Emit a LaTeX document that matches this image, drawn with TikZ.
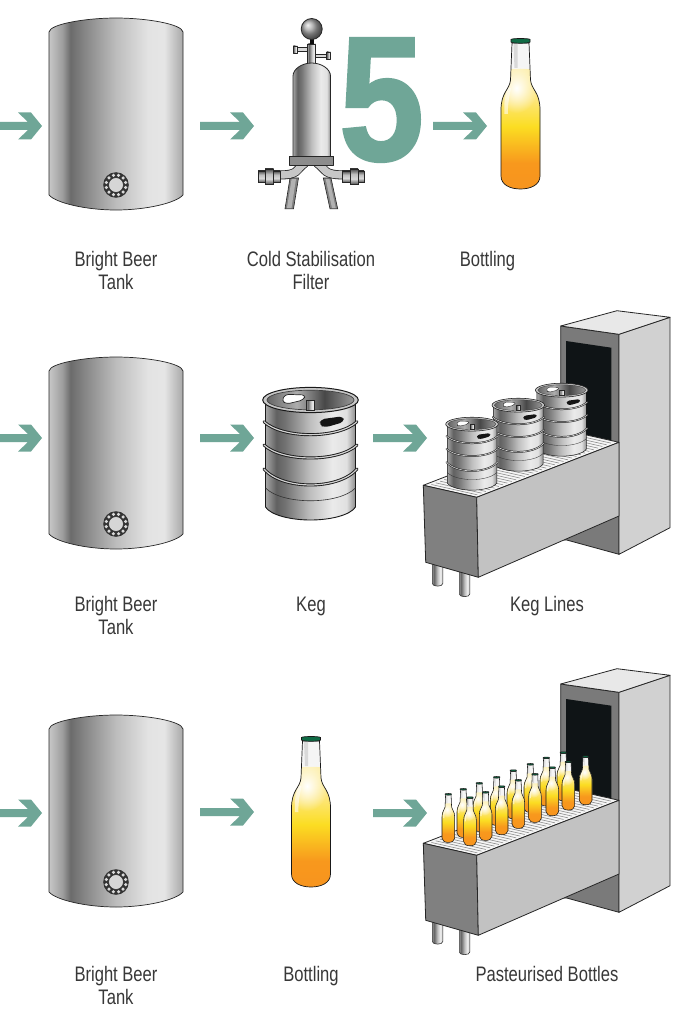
\documentclass[tikz,border=0pt]{standalone}
\usepackage{fontspec}
\setmainfont[FakeStretch=0.79]{Liberation Sans}
\newfontfamily\fivefont[FakeStretch=0.86,BoldFeatures={FakeBold=1.6}]{Liberation Sans}
\usetikzlibrary{calc,fadings}
\definecolor{teal5}{HTML}{6FA697}
\definecolor{capgreen}{HTML}{0F6B45}
\definecolor{beerA}{HTML}{F7941E}
\definecolor{beerB}{HTML}{F8981D}
\definecolor{beerC}{HTML}{FBDD22}
\definecolor{beerD}{HTML}{FDE67A}
\definecolor{beerE}{HTML}{FDEFAE}
\definecolor{windowblack}{HTML}{0F1416}
\pgfdeclarehorizontalshading{steel}{100bp}{
 color(0bp)=(black!22); color(25bp)=(black!22); color(30bp)=(black!38); color(33bp)=(black!58);
 color(38bp)=(black!48); color(50bp)=(black!26); color(62bp)=(black!11); color(68bp)=(black!10);
 color(72bp)=(black!24); color(75bp)=(black!34); color(100bp)=(black!34)}
\pgfdeclarehorizontalshading{steelb}{100bp}{
 color(0bp)=(black!35); color(25bp)=(black!35); color(31bp)=(black!62); color(36bp)=(black!55);
 color(50bp)=(black!25); color(62bp)=(black!8); color(70bp)=(black!12); color(75bp)=(black!45); color(100bp)=(black!45)}
\pgfdeclarehorizontalshading{kegin}{100bp}{
 color(0bp)=(black!60); color(25bp)=(black!60); color(42bp)=(black!32); color(58bp)=(black!72); color(75bp)=(black!40); color(100bp)=(black!40)}
\pgfdeclareverticalshading{pipev}{100bp}{
 color(0bp)=(black!65); color(25bp)=(black!65); color(42bp)=(black!15); color(58bp)=(black!25); color(75bp)=(black!70); color(100bp)=(black!70)}
\pgfdeclareverticalshading{beer}{100bp}{
 color(0bp)=(beerA); color(25bp)=(beerA); color(36bp)=(beerB); color(51bp)=(beerC);
 color(62bp)=(beerD); color(75bp)=(beerE); color(100bp)=(beerE)}
\tikzfading[name=glowfade, inner color=transparent!0, outer color=transparent!100]
\tikzset{
 labeltext/.style={align=center,text=black!78,font=\fontsize{21}{23.4}\selectfont,inner sep=0pt},
 oneline/.style={labeltext,anchor=base},
 outline/.style={draw=black!85,line width=.7pt,line join=round},
 boxface/.style={draw=black!85,line width=.8pt,line join=round},
 fitpart/.style={draw=black!85,line width=.6pt},
}
% arrow: start x, tip x, y
\newcommand\flowarrow[3]{%
 \fill[teal5] (#1,#3-4) -- (#2-14,#3-4) -- (#2-24,#3-13.5) -- (#2-11,#3-13.5) -- (#2,#3) -- (#2-11,#3+13.5) -- (#2-24,#3+13.5) -- (#2-14,#3+4) -- (#1,#3+4) -- cycle;}
% tank: top y
\newcommand\tankdraw[1]{%
 \begin{scope}[shift={(116,#1)}]
 \path[outline,shading=steel] (-67,14) .. controls (-66,6) and (-30,0) .. (0,0) .. controls (30,0) and (66,6) .. (67,14)
   -- (67,177) .. controls (60,185) and (30,192) .. (0,192) .. controls (-30,192) and (-60,185) .. (-67,177) -- cycle;
 \fill[black!80] (0,167) circle (12.8);
 \foreach \a in {15,45,...,345}{\fill[black!15] (0,167)++(\a:10) circle (1.75);}
 \draw[black!85,line width=.5pt,fill=black!16] (0,167) circle (7.4);
 \end{scope}}
% bottle: x, top y, scale
\newcommand\beerbottle[4][.7pt]{%
 \begin{scope}[shift={(#2,#3)},scale=#4]
 \def\bpath{(-8.5,5) -- (-10,42) .. controls (-11,52) and (-19.5,54) .. (-19.5,72) -- (-19.5,138) .. controls (-19.5,147) and (-10,151) .. (0,151) .. controls (10,151) and (19.5,147) .. (19.5,138) -- (19.5,72) .. controls (19.5,54) and (11,52) .. (10,42) -- (8.5,5) -- cycle}
 \fill[black!4] \bpath;
 \begin{scope}
 \clip \bpath;
 \shade[shading=beer] (-21,33) .. controls (-5,30) and (5,30) .. (21,33) -- (21,152) -- (-21,152) -- cycle;
 \fill[white,path fading=glowfade] (-4,50) ellipse [x radius=21,y radius=25];
 \fill[white,opacity=.55] (-13,50) .. controls (-15,58) and (-17,64) .. (-16,76) -- (-12.5,76) .. controls (-13,66) and (-11,58) .. (-9.5,50) -- cycle;
 \fill[black!15] (-7,6) -- (-6,30) -- (-3,30) -- (-3,6) -- cycle;
 \end{scope}
 \draw[black!90,line width=#1,line join=round] \bpath;
 \draw[black!90,fill=capgreen,line width=#1] (-9.5,1.5) .. controls (-9,.2) and (9,.2) .. (9.5,1.5) -- (9.5,4) .. controls (9,5.6) and (-9,5.6) .. (-9.5,4) -- cycle;
 \end{scope}}
% keg: cx, top y, scale
\newcommand\kegring[3]{%
 \draw[black!90,line width=#3*3pt,line cap=round] (-46.5,#1) .. controls (-28,#1+#2*1.33) and (28,#1+#2*1.33) .. (46.5,#1);
 \draw[black!18,line width=#3*1.2pt,line cap=round] (-46.5,#1) .. controls (-28,#1+#2*1.33) and (28,#1+#2*1.33) .. (46.5,#1);}
\newcommand\kegdraw[3]{%
 \begin{scope}[shift={(#1,#2)},scale=#3]
 \path[draw=black!90,line width=#3*.9pt,shading=steelb] (-45,13) -- (-45,120) .. controls (-40,128) and (-20,133) .. (0,133) .. controls (20,133) and (40,128) .. (45,120) -- (45,13) -- cycle;
 \draw[black!80,line width=#3*.6pt] (-45,101) .. controls (-28,118) and (28,118) .. (45,101);
 \kegring{34.7}{13}{#3}\kegring{58}{13}{#3}\kegring{82}{16}{#3}
 \path[draw=black!90,line width=#3*1pt,fill=black!22] (0,13) ellipse [x radius=47.8,y radius=12.6];
 \path[draw=black!75,line width=#3*.7pt,shading=kegin] (0,13) ellipse [x radius=43.5,y radius=9.8];
 \draw[black!85,line width=#3*.7pt,fill=white,rounded corners=#3*3.5pt,line join=round] (-28.8,14) -- (-25.5,7.3) -- (-4.8,8) -- (-7.2,13) -- (-23.8,17) -- cycle;
 \path[draw=black!85,line width=#3*.6pt,shading=steelb] (-4,13) rectangle (4,23);
 \fill[black!92,rounded corners=#3*4pt] (8.5,38) -- (10.2,32.3) -- (32.8,29.2) -- (33.5,35) -- (14.5,40.5) -- cycle;
 \end{scope}}
% line machine: y offset
\newcommand\linemachine[1]{%
 \begin{scope}[shift={(0,#1)}]
 \foreach \lx/\ly in {432.3/586,459.3/596.5}{
  \path[draw=black!80,line width=.6pt,shading=steelb] (\lx,560) -- (\lx,\ly-2.5) .. controls (\lx,\ly+1) and (\lx+10.5,\ly+1) .. (\lx+10.5,\ly-2.5) -- (\lx+10.5,560) -- cycle;}
 \draw[boxface,fill=black!52] (560.7,326) -- (619,334.3) -- (619,554.3) -- (566.7,540) -- (560.7,540) -- cycle;
 \fill[windowblack] (566,341) -- (611.3,347.7) -- (611.3,445) -- (566,460) -- cycle;
 \draw[boxface,fill=black!18] (619,334.3) -- (670,317.3) -- (670,527.7) -- (619,554.3) -- cycle;
 \draw[boxface,fill=black!9] (560.7,326) -- (617,310.7) -- (670,317.3) -- (619,334.3) -- cycle;
 \coordinate (A) at (423.3,485.3); \coordinate (B) at (476.7,497.3);
 \coordinate (C) at (619,442.3); \coordinate (D) at (565.6,430.3);
 \draw[boxface,fill=black!4] (A) -- (B) -- (C) -- (D) -- cycle;
 \foreach \f in {1,...,32}{
  \coordinate (P) at ($(A)!\f/33!(D)$); \coordinate (Q) at ($(B)!\f/33!(C)$);
  \draw[black!45,line width=.6pt] ($(P)!.07!(Q)$) -- ($(P)!.93!(Q)$);}
 \draw[boxface,fill=black!50] (A) -- (B) -- (478.3,577.3) -- (425.7,562.3) -- cycle;
 \draw[boxface,fill=black!24] (B) -- (C) -- (619,516) -- (478.3,577.3) -- cycle;
 \end{scope}}
\begin{document}
\begin{tikzpicture}[x=1pt,y=-1pt]
\useasboundingbox (0,0) rectangle (675,1011);
\fill[white] (0,0) rectangle (675,1011);
% ---------- tanks
\tankdraw{18}\tankdraw{357}\tankdraw{715}
% ---------- arrows
\flowarrow{0}{42}{126}\flowarrow{200}{254}{126}\flowarrow{433}{487}{126}
\flowarrow{0}{42}{438}\flowarrow{200}{254}{438}\flowarrow{373}{427}{438}
\flowarrow{0}{42}{813}\flowarrow{200}{254}{812}\flowarrow{373}{427}{813}
% ---------- big 5
\node[text=teal5,inner sep=0pt,font=\fontsize{177}{177}\fivefont\bfseries] (five) at (381.5,100) {5};
% ---------- filter
\draw[fitpart,fill=black!50] (285,208.8) -- (290,178) -- (298.5,178) -- (293.5,208.8) -- cycle;
\draw[fitpart,fill=black!50] (330,208.8) -- (323.3,178) -- (331,178) -- (337.7,208.8) -- cycle;
\fill[black!30] (287,208) -- (291.6,179) -- (296,179) -- (291.5,208) -- cycle;
\fill[black!30] (332,208) -- (325.6,179) -- (329.4,179) -- (335.7,208) -- cycle;
\draw[black!85,line width=9pt] (278,175) .. controls (300,175) and (295,170) .. (305,163);
\draw[black!22,line width=7.4pt] (278,175) .. controls (300,175) and (295,170) .. (305,163);
\draw[black!85,line width=9pt] (346,175) .. controls (322,175) and (327,170) .. (317,163);
\draw[black!22,line width=7.4pt] (346,175) .. controls (322,175) and (327,170) .. (317,163);
\path[fitpart,shading=pipev] (258,171) rectangle (265,182);
\path[fitpart,shading=pipev] (265,169) rectangle (273.5,184);
\path[fitpart,shading=pipev] (273.5,171) rectangle (280,182);
\path[fitpart,shading=pipev] (342,171) rectangle (350,182);
\path[fitpart,shading=pipev] (350,169) rectangle (358,184);
\path[fitpart,shading=pipev] (358,171) rectangle (364,182);
\path[outline,shading=steelb] (307.7,44) rectangle (315.7,66);
\fill[black!95] (309.5,38) rectangle (314,44);
\path[outline,shading=steelb] (293,46) rectangle (297,53);
\path[fitpart,fill=black!15] (297,47.8) rectangle (307.7,51);
\path[outline,shading=steelb] (326.3,52) rectangle (330.5,59);
\path[fitpart,fill=black!15] (315.7,54) rectangle (326.3,57.2);
\path[boxface,ball color=black!35] (311.7,29) circle (10.5);
\path[boxface,shading=steelb] (293,157) -- (293,76) .. controls (293,69) and (302,63) .. (311.7,63) .. controls (321.4,63) and (330.5,69) .. (330.5,76) -- (330.5,157) -- cycle;
\draw[outline,fill=black!45] (289.5,156) rectangle (333.5,165.5);
% ---------- bottles
\beerbottle{520.5}{38}{1}
\beerbottle{311}{736}{1}
% ---------- kegs
\kegdraw{310.5}{387}{1}
\linemachine{0}
\kegdraw{561.7}{383}{.55}
\kegdraw{518.3}{398}{.55}
\kegdraw{472}{417}{.55}
\linemachine{358}
% small bottles, back row then front row
\foreach \zx/\zy in {527/287,460/275,409/291,361/310,310/329,260/349,208/367,160/385,
  475/303,427/320,375/340,325/358,275/377,227/394,180/410,115/400}{
 \pgfmathsetmacro\bx{410+\zx/3}\pgfmathsetmacro\by{660+\zy/3}
 \beerbottle[.55pt]{\bx}{\by}{.325}}
% ---------- labels
\node[labeltext] (l1) at (116,270.5) {Bright Beer\\Tank};
\node[labeltext] (l2) at (311,270.5) {Cold Stabilisation\\Filter};
\node[oneline] (l3) at (487.5,266) {Bottling};
\node[labeltext] (l4) at (116,615.5) {Bright Beer\\Tank};
\node[oneline] (l5) at (311,611) {Keg};
\node[oneline] (l6) at (547,611) {Keg Lines};
\node[labeltext] (l7) at (116,985.5) {Bright Beer\\Tank};
\node[oneline] (l8) at (311,981) {Bottling};
\node[oneline] (l9) at (547,981) {Pasteurised Bottles};
\end{tikzpicture}
\end{document}
